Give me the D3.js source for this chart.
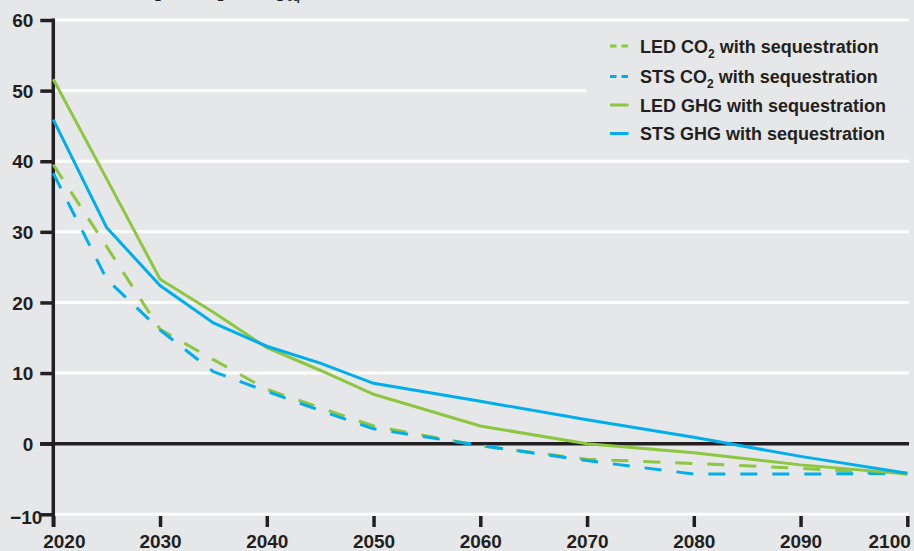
<!DOCTYPE html>
<html>
<head>
<meta charset="utf-8">
<script src="https://cdn.jsdelivr.net/npm/d3@7"></script>
<style>
  html, body { margin: 0; padding: 0; background: #e6e7e8; }
  svg { display: block; }
  text { font-family: "Liberation Sans", Arial, sans-serif; font-weight: bold; fill: #231f20; }
</style>
</head>
<body>
<svg id="chart" width="914" height="551"></svg>
<script>
const years   = [2020, 2025, 2030, 2035, 2040, 2045, 2050, 2060, 2070, 2080, 2090, 2100];
const ledCO2  = [39.5, 27.9, 16.2, 11.9, 7.7, 5.1, 2.5, -0.3, -2.2, -2.8, -3.5, -4.3];
const stsCO2  = [38.3, 23.3, 16.1, 10.2, 7.4, 4.7, 2.1, -0.25, -2.4, -4.3, -4.3, -4.2];
const ledGHG  = [51.6, 37.5, 23.3, 18.6, 13.6, 10.4, 7.0, 2.5, 0.0, -1.3, -3.0, -4.3];
const stsGHG  = [45.9, 30.6, 22.4, 17.1, 13.8, 11.4, 8.55, 6.0, 3.4, 0.9, -1.8, -4.2];

const xTicks = [2020, 2030, 2040, 2050, 2060, 2070, 2080, 2090, 2100];
const yTicks = [-10, 0, 10, 20, 30, 40, 50, 60];

const seriesNames = ["LED CO2 with sequestration", "STS CO2 with sequestration", "LED GHG with sequestration", "STS GHG with sequestration"];
const seriesData = [ledCO2, stsCO2, ledGHG, stsGHG];
const seriesColors = ["#8dc63f", "#00aeef", "#8dc63f", "#00aeef"];
const seriesDashed = [true, true, false, false];

// title pieces (only the bottom of the subscripts is visible at the top edge)
const titleParts = ["Emissions in Gt CO", " / CO", " / CO"];
const titleSubs  = ["2", "2", "2-eq"];

const BG = "#e6e7e8", INK = "#231f20";
const svg = d3.select("#chart");

const x = d3.scaleLinear().domain([2020, 2100]).range([53.3, 907.3]);
const y = d3.scaleLinear().domain([-10, 60]).range([514.3, 20]);

// partially visible title (cut off at top)
const subX = [155, 217.5, 277];
const title = svg.append("text").attr("y", -5).attr("font-size", 14);
titleParts.forEach((p, i) => {
  title.append("tspan").attr("x", subX[i] - 0.5).attr("text-anchor", "end")
    .attr("dy", i === 0 ? 0 : -5.5).text(p);
  title.append("tspan").attr("x", subX[i]).attr("text-anchor", "start")
    .attr("dy", 5.5).attr("font-size", 11).text(titleSubs[i]);
});

// gridlines
svg.append("g").selectAll("line")
  .data(yTicks.filter(d => d !== 0))
  .join("line")
  .attr("x1", x(2020)).attr("x2", 909)
  .attr("y1", d => y(d)).attr("y2", d => y(d))
  .attr("stroke", "#ffffff").attr("stroke-width", 3);

// legend background cut-out
svg.append("rect").attr("x", 586).attr("y", 28).attr("width", 328).attr("height", 122).attr("fill", BG);

// zero line
svg.append("line")
  .attr("x1", 40).attr("x2", 909)
  .attr("y1", y(0)).attr("y2", y(0))
  .attr("stroke", INK).attr("stroke-width", 3.5);

// y axis
const yAxis = d3.axisLeft(y).tickValues(yTicks).tickSize(13).tickPadding(7).tickFormat(d3.format("d"));
const gy = svg.append("g").attr("transform", `translate(${x(2020)},0)`).call(yAxis);
gy.select(".domain").remove();
gy.selectAll(".tick line").attr("stroke", INK).attr("stroke-width", 3.5);
gy.selectAll(".tick text").attr("font-size", 19).attr("fill", INK)
  .attr("x", d => d === -10 ? -11 : -20)
  .attr("dy", d => d === -10 ? "0.5em" : "0.35em");
svg.append("line").attr("x1", x(2020)).attr("x2", x(2020)).attr("y1", y(60) - 1.5).attr("y2", 527)
  .attr("stroke", INK).attr("stroke-width", 3.5);

// x axis
const xAxis = d3.axisBottom(x).tickValues(xTicks).tickSize(11).tickPadding(8).tickFormat(d3.format("d"));
const gx = svg.append("g").attr("transform", `translate(0,516)`).call(xAxis);
gx.select(".domain").remove();
gx.selectAll(".tick line").attr("stroke", INK).attr("stroke-width", 3.5);
gx.selectAll(".tick text").attr("font-size", 19).attr("fill", INK)
  .attr("text-anchor", d => d === 2020 ? "start" : d === 2100 ? "end" : "middle")
  .attr("x", d => d === 2020 ? -10.6 : d === 2100 ? 3 : 0)
  .attr("dy", "0.71em");

// lines
const line = d3.line().x((d, i) => x(years[i])).y(d => y(d));
svg.append("g").selectAll("path")
  .data(seriesData)
  .join("path")
  .attr("d", d => line(d))
  .attr("fill", "none")
  .attr("stroke", (d, i) => seriesColors[i])
  .attr("stroke-width", 3)
  .attr("stroke-dasharray", (d, i) => seriesDashed[i] ? "17,15" : null);

// legend
const legY = [46, 76.5, 105, 133.5];
const lg = svg.append("g");
seriesNames.forEach((name, i) => {
  lg.append("line")
    .attr("x1", 610).attr("x2", 628.5).attr("y1", legY[i]).attr("y2", legY[i])
    .attr("stroke", seriesColors[i]).attr("stroke-width", 3)
    .attr("stroke-dasharray", seriesDashed[i] ? "6.5,5" : null);
  const t = lg.append("text").attr("x", 640).attr("y", legY[i] + 6.5).attr("font-size", 18);
  const parts = name.split("CO2");
  if (parts.length > 1) {
    t.append("tspan").text(parts[0] + "CO");
    t.append("tspan").attr("font-size", 12).attr("dy", 5).text("2");
    t.append("tspan").attr("dy", -5).text(" " + parts[1].trim());
  } else {
    t.text(name);
  }
});
</script>
</body>
</html>
